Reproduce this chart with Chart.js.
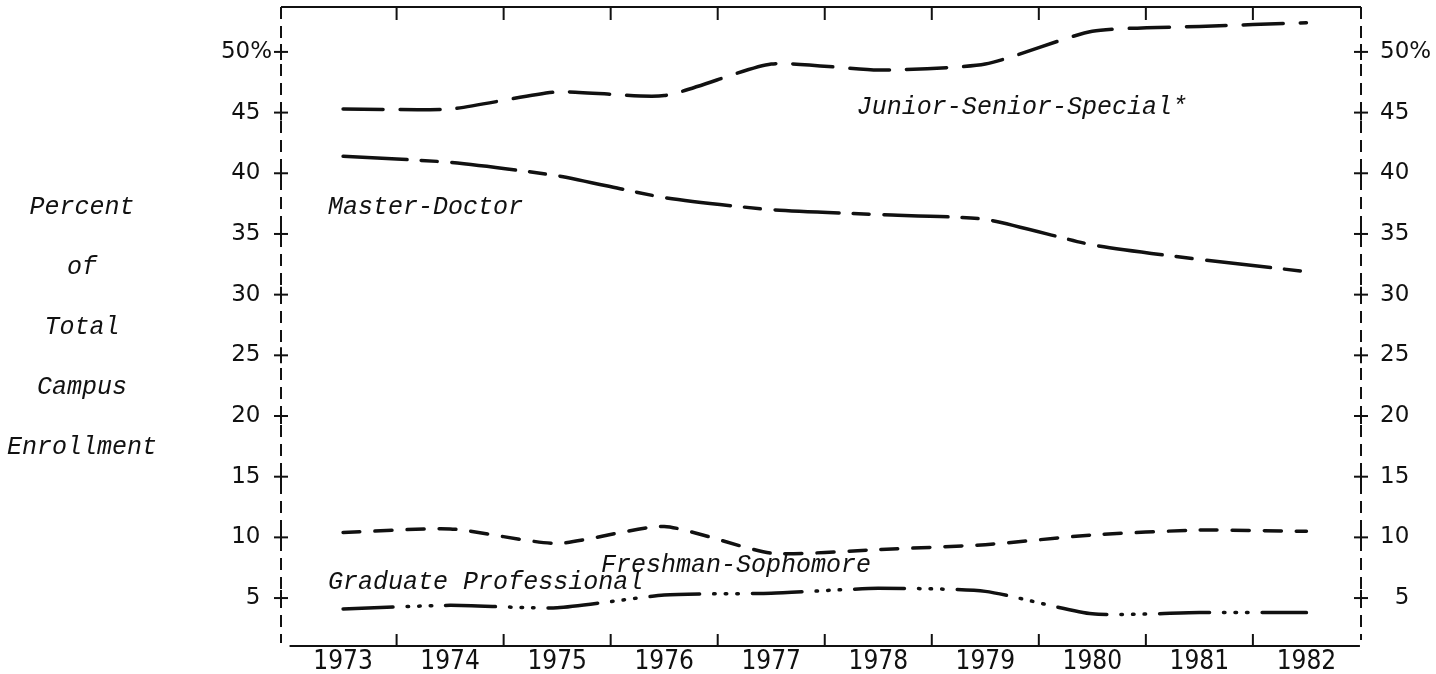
<!DOCTYPE html>
<html>
<head>
<meta charset="utf-8">
<script src="https://cdn.jsdelivr.net/npm/chart.js@4.4.1/dist/chart.umd.min.js"></script>
<style>
  html, body { margin: 0; padding: 0; background: #fff; }
  canvas { display: block; }
</style>
</head>
<body>
<canvas id="enrollChart" width="1436" height="674"></canvas>
<script>
// ----------------------------
// Data (percent of total campus enrollment)
// ----------------------------
const years = ["1973", "1974", "1975", "1976", "1977", "1978", "1979", "1980", "1981", "1982"];

const juniorSeniorSpecial  = [45.3, 45.3, 46.7, 46.4, 49.0, 48.5, 49.0, 51.7, 52.1, 52.4];
const masterDoctor         = [41.4, 40.9, 39.8, 38.0, 37.0, 36.6, 36.2, 34.1, 32.9, 31.9];
const freshmanSophomore    = [10.4, 10.7, 9.5, 10.9, 8.7, 9.0, 9.4, 10.2, 10.6, 10.5];
const graduateProfessional = [4.1, 4.4, 4.2, 5.25, 5.4, 5.8, 5.55, 3.7, 3.8, 3.8];

const yTicks = [5, 10, 15, 20, 25, 30, 35, 40, 45, 50];
const yTickLabels = ["5", "10", "15", "20", "25", "30", "35", "40", "45", "50%"];

const sideTitle = ["Percent", "of", "Total", "Campus", "Enrollment"];

const ink = "#111";
const typewriter = 'italic 25px "Liberation Mono", "DejaVu Sans Mono", monospace';

const toPoints = values => values.map((v, i) => ({ x: i, y: v }));

// ----------------------------
// Frame, tick marks and hand-typed labels
// ----------------------------
const framePlugin = {
    id: "frame",
    beforeDatasetsDraw(chart) {
        const { ctx, chartArea: a, scales } = chart;
        const x = scales.x;
        const y = scales.yLeft;

        ctx.save();
        ctx.strokeStyle = ink;
        ctx.lineWidth = 2;

        const seg = (x1, y1, x2, y2) => {
            ctx.beginPath();
            ctx.moveTo(x1, y1);
            ctx.lineTo(x2, y2);
            ctx.stroke();
        };

        // top rule and bottom axis rule
        seg(a.left, a.top, a.right, a.top);
        seg(x.getPixelForValue(-0.5), a.bottom, x.getPixelForValue(years.length - 0.5), a.bottom);

        // dashed side rules
        ctx.setLineDash([12, 7]);
        seg(a.left, a.top, a.left, a.bottom - 3);
        seg(a.right, a.top, a.right, a.bottom - 6);
        ctx.setLineDash([]);

        // year boundary ticks, top and bottom
        for (let i = 0; i < years.length - 1; i++) {
            const px = x.getPixelForValue(i + 0.5);
            seg(px, a.top, px, a.top + 13);
            seg(px, a.bottom, px, a.bottom - 12);
        }

        // "+" marks on both side rules
        yTicks.forEach(v => {
            const py = y.getPixelForValue(v);
            [a.left, a.right].forEach(sx => {
                seg(sx - 7, py, sx + 7, py);
                seg(sx, py - 8, sx, py + 8);
            });
        });

        ctx.restore();
    },
    afterDatasetsDraw(chart) {
        const { ctx, scales } = chart;
        const x = scales.x;
        const y = scales.yLeft;

        ctx.save();
        ctx.fillStyle = ink;
        ctx.font = typewriter;
        ctx.textBaseline = "middle";

        // series names, anchored in data units
        ctx.textAlign = "left";
        ctx.fillText("Junior-Senior-Special*", x.getPixelForValue(4.8), y.getPixelForValue(45.4));
        ctx.fillText("Master-Doctor", x.getPixelForValue(-0.14), y.getPixelForValue(37.2));
        ctx.fillText("Freshman-Sophomore", x.getPixelForValue(2.41), y.getPixelForValue(7.7));
        ctx.fillText("Graduate Professional", x.getPixelForValue(-0.14), y.getPixelForValue(6.3));

        // side title
        ctx.textAlign = "center";
        sideTitle.forEach((word, i) => {
            ctx.fillText(word, 82, 207 + i * 60);
        });

        ctx.restore();
    }
};

// ----------------------------
// Chart
// ----------------------------
const numberFont = { family: '"DejaVu Sans", sans-serif', size: 23 };

// fixed axis boxes, no automatic label padding
const noPad = s => {
    s.paddingTop = 0;
    s.paddingBottom = 0;
    s.paddingLeft = 0;
    s.paddingRight = 0;
};

const ctx = document.getElementById("enrollChart").getContext("2d");

const lineStyle = {
    yAxisID: "yLeft",
    borderColor: ink,
    borderWidth: 3.5,
    borderCapStyle: "round",
    pointRadius: 0,
    tension: 0.2,
    fill: false
};

new Chart(ctx, {
    type: "line",
    data: {
        datasets: [
            { ...lineStyle, label: "Junior-Senior-Special*", data: toPoints(juniorSeniorSpecial), borderDash: [40, 17] },
            { ...lineStyle, label: "Master-Doctor", data: toPoints(masterDoctor), borderDash: [64, 14, 16, 15] },
            { ...lineStyle, label: "Freshman-Sophomore", data: toPoints(freshmanSophomore), borderDash: [17, 15] },
            { ...lineStyle, label: "Graduate Professional", data: toPoints(graduateProfessional),
              borderDash: [50, 14, 1.5, 10, 1.5, 10, 1.5, 14] }
        ]
    },
    options: {
        responsive: false,
        animation: false,
        layout: { padding: { top: 7, left: 0, right: 0, bottom: 0 } },
        plugins: {
            legend: { display: false },
            tooltip: { enabled: false }
        },
        scales: {
            x: {
                type: "linear",
                min: -0.58,
                max: 9.51,
                afterBuildTicks: s => { s.ticks = years.map((_, i) => ({ value: i })); },
                afterFit: s => { s.height = 28; noPad(s); },
                grid: { display: false, drawTicks: false },
                border: { display: false },
                ticks: {
                    color: ink,
                    padding: 1,
                    maxRotation: 0,
                    autoSkip: false,
                    font: { family: '"DejaVu Sans Condensed", "DejaVu Sans", sans-serif', size: 26 },
                    callback: v => years[v] ?? ""
                }
            },
            yLeft: {
                type: "linear",
                position: "left",
                min: 1.05,
                max: 53.7,
                afterBuildTicks: s => { s.ticks = yTicks.map(v => ({ value: v })); },
                afterFit: s => { s.width = 281; noPad(s); },
                grid: { display: false, drawTicks: false },
                border: { display: false },
                ticks: {
                    color: ink,
                    padding: 9,
                    font: numberFont,
                    callback: v => {
                        const label = yTickLabels[yTicks.indexOf(v)];
                        return label.endsWith("%") ? label : label + "\u2002";
                    }
                }
            },
            yRight: {
                type: "linear",
                position: "right",
                min: 1.05,
                max: 53.7,
                afterBuildTicks: s => { s.ticks = yTicks.map(v => ({ value: v })); },
                afterFit: s => { s.width = 75; noPad(s); },
                grid: { display: false, drawTicks: false },
                border: { display: false },
                ticks: {
                    color: ink,
                    padding: 19,
                    font: numberFont,
                    callback: v => {
                        const label = yTickLabels[yTicks.indexOf(v)];
                        return label.length === 1 ? "\u2007" + label : label;
                    }
                }
            }
        }
    },
    plugins: [framePlugin]
});
</script>
</body>
</html>
